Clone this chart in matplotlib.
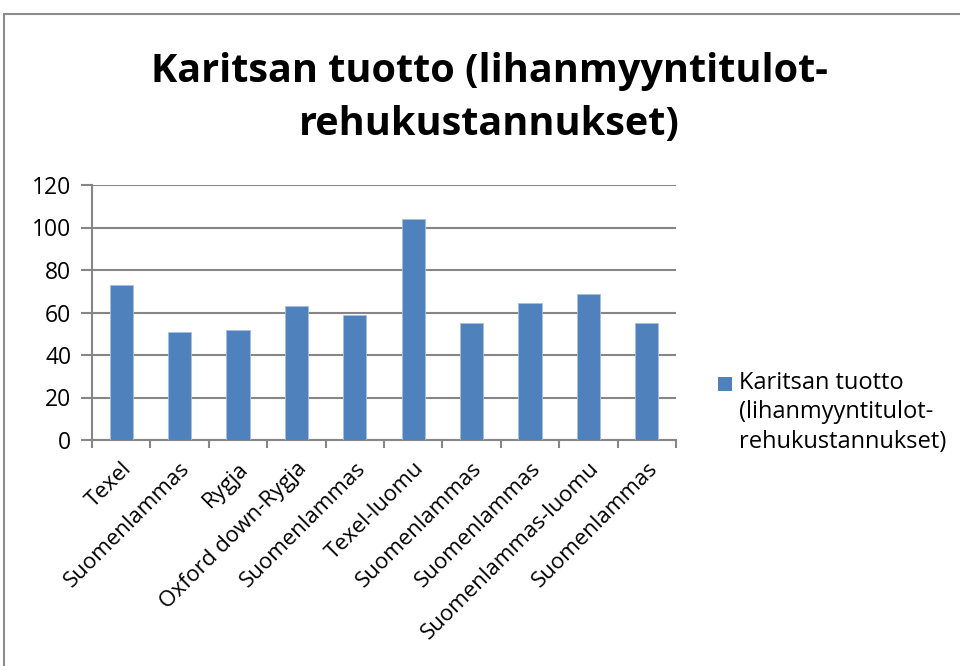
import matplotlib.pyplot as plt
from matplotlib.patches import Rectangle

# data
categories = ['Texel', 'Suomenlammas', 'Rygja', 'Oxford down-Rygja', 'Suomenlammas',
              'Texel-luomu', 'Suomenlammas', 'Suomenlammas', 'Suomenlammas-luomu',
              'Suomenlammas']
values = [73, 51, 52, 63, 59, 104, 55, 64.5, 68.8, 55]
y_ticks = [0, 20, 40, 60, 80, 100, 120]
title = 'Karitsan tuotto (lihanmyyntitulot-\nrehukustannukset)'
legend_label = 'Karitsan tuotto\n(lihanmyyntitulot-\nrehukustannukset)'

BAR = '#4F81BD'
GRID = '#868686'
FONT = 'Open Sans'

plt.rcParams['font.family'] = [FONT, 'DejaVu Sans']

fig = plt.figure(figsize=(9.6, 6.66), dpi=100)

# outer chart frame (runs off the right and bottom edges)
fig.patches.append(Rectangle((4 / 960, -0.05), 1.0, 1 - 14 / 666 + 0.05,
                             transform=fig.transFigure, fill=False,
                             edgecolor='#8c8c8c', linewidth=1.5))

ax = fig.add_axes([92 / 960, 1 - 440 / 666, (676 - 92) / 960, (440 - 185) / 666])

x = list(range(len(categories)))
bars = ax.bar(x, values, width=0.4, color=BAR, edgecolor='#A7BFDE',
              linewidth=0.6, zorder=3, label=legend_label)

ax.set_xlim(-0.5, len(categories) - 0.5)
ax.set_ylim(0, 120)
ax.set_yticks(y_ticks)
ax.yaxis.grid(True, color=GRID, linewidth=1.5)
ax.set_axisbelow(True)

for side in ['top', 'right']:
    ax.spines[side].set_visible(False)
for side in ['left', 'bottom']:
    ax.spines[side].set_color(GRID)
    ax.spines[side].set_linewidth(1.5)

# category ticks sit on the boundaries, labels in the middle
ax.set_xticks(x)
ax.set_xticklabels(categories, rotation=45, ha='right', rotation_mode='anchor',
                   fontsize=16)
ax.tick_params(axis='x', which='major', length=0, pad=13)
ax.set_xticks([i - 0.5 for i in range(len(categories) + 1)], minor=True)
ax.tick_params(axis='x', which='minor', length=6, width=1.5, color=GRID)
ax.tick_params(axis='y', length=8, width=1.5, color=GRID, labelsize=16.5, pad=7)

fig.text(489 / 960, 1 - 98 / 666, title, ha='center', va='center',
         fontsize=28.5, fontweight='bold', linespacing=1.45)

# legend drawn Excel-style: marker lined up with the first text line
fig.patches.append(Rectangle((718 / 960, 1 - 391 / 666), 14 / 960, 14 / 666,
                             transform=fig.transFigure, facecolor=BAR,
                             edgecolor='none'))
fig.text(739 / 960, 1 - 371 / 666, legend_label, ha='left', va='top',
         fontsize=17, linespacing=1.3)

fig.savefig('out.png', dpi=100)
